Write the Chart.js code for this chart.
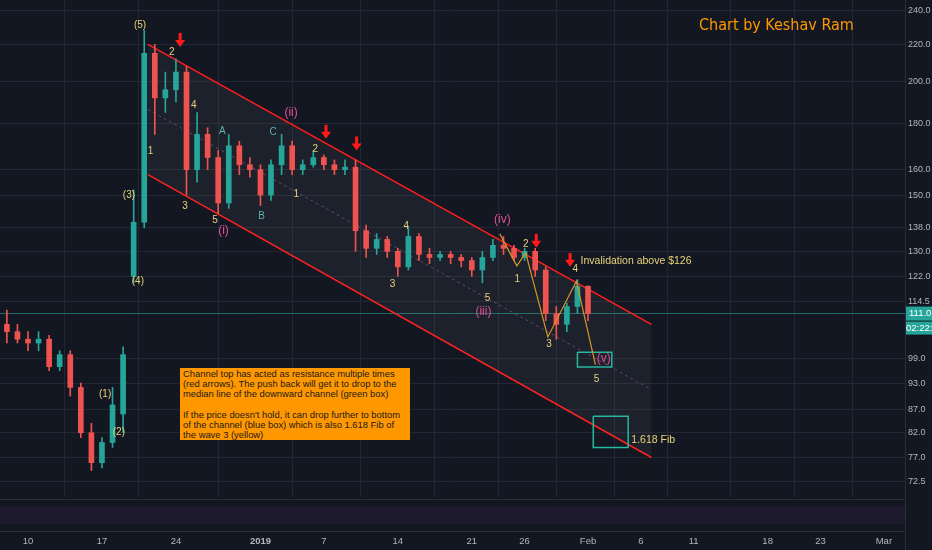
<!DOCTYPE html>
<html><head><meta charset="utf-8">
<script src="https://cdn.jsdelivr.net/npm/chart.js@4"></script>
<style>
html,body{margin:0;padding:0;background:#131722;overflow:hidden}
#wrap{position:relative;width:932px;height:550px}
#note{position:absolute;left:180px;top:368px;width:230px;height:72px;background:#ff9800;color:#1a1a1a;font:9.4px "Liberation Sans",Arial,sans-serif;line-height:10.2px;padding:1px 3px;box-sizing:border-box;white-space:nowrap;overflow:hidden}
#title{position:absolute;left:699px;top:15px;color:#ff9800;font:16px "Liberation Sans Narrow","DejaVu Sans Condensed",sans-serif}
#pane{position:absolute;left:0;top:499px;width:905px;height:31px;border-top:1px solid #2a2e39;border-bottom:1px solid #2a2e39;background:linear-gradient(#131722 0,#131722 6px,#1c1a2c 6px,#1c1a2c 24px,#131722 24px)}
</style></head><body>
<div id="wrap"><canvas id="c" width="932" height="550"></canvas>
<div id="pane"></div>
<div id="title">Chart by Keshav Ram</div>
<div id="note">Channel top has acted as resistance multiple times<br>(red arrows). The push back will get it to drop to the<br>median line of the downward channel (green box)<br><br>If the price doesn't hold, it can drop further to bottom<br>of the channel (blue box) which is also 1.618 Fib of<br>the wave 3 (yellow)</div>
</div>
<script>
const days   = [-2,-1,0,1,2,3,4,5,6,7,8,9,10,11,12,13,14,15,16,17,18,19,20,21,22,23,24,25,26,27,28,29,30,31,32,33,34,35,36,37,38,39,40,41,42,43,44,45,46,47,48,49,50,51,52,53];
const opens  = [108,106,104,103,104,97,100,92,82,76,80,86,122,140,215,192,196,205,160,175,165,147,170,162,160,150,162,170,160,162,165,162,160,161,137,131,134,130,125,135,129,128,129,128,127,124,128,132,131,128,130,124,111,108,113,119];
const closes = [106,104,103,104,97,100,92,82,76,80,88,100,140,215,192,196,205,160,175,165,147,170,162,160,150,162,170,160,162,165,162,160,161,137,131,134,130,125,135,129,128,129,128,127,124,128,132,131,128,130,124,111,108,113,119,111];
const highs  = [112,108,106,106,105,101,101,93,84,81,92,102,152,228,220,205,212,208,185,178,168,175,172,165,162,164,175,172,164,168,166,164,164,164,139,136,135,131,138,136,131,130,130,129,128,130,134,135,132,131,131,125,113,114,121,119];
const lows   = [103,103,101,101,96,96,90,81,74.5,75,79,82,120,138,175,185,190,150,155,160,143,145,158,157,146,148,158,158,158,161,160,158,158,130,128,129,128,122,124,127,126,127,126,125,122,120,127,129,127,127,122,109,104,106,111,109];

const upperCh = [{x:11.35,y:220},{x:59.0,y:108}];
const lowerCh = [{x:11.35,y:158},{x:59.0,y:77}];
const medianCh = [{x:11.35,y:186.4},{x:59.0,y:91.5}];
const zigzag = [{x:44.65,y:135.9},{x:46.26,y:125.3},{x:47.1,y:129.5},{x:49.2,y:104.6},{x:51.9,y:120.5},{x:53.7,y:97.5}];
const greenBox = [{x:52.0,y:100.6},{x:55.25,y:100.6},{x:55.25,y:96.9},{x:52.0,y:96.9},{x:52.0,y:100.6}];
const blueBox = [{x:53.5,y:85.5},{x:56.8,y:85.5},{x:56.8,y:79},{x:53.5,y:79},{x:53.5,y:85.5}];
const lastPrice = 111.0;

const yTicks = [240,220,200,180,160,150,138,130,122,114.5,99,93,87,82,77,72.5];
const xTickDays = [0,7,14,22,28,35,42,47,53,58,63,70,75,81];
const xTickLabels = ["10","17","24","2019","7","14","21","26","Feb","6","11","18","23","Mar"];

const arrowDays = [14.4,28.2,31.1,48.1,51.3];
const arrowPrices = [219.1,173.5,168.4,131.5,125.3];

const Y='#e8d27a', P='#e0509a', T='#5fb3a8';
const labels = [
 [10.6,231,"(5)",Y],[13.6,215.6,"2",Y],[11.6,167.5,"1",Y],[15.7,188.6,"4",Y],[14.85,145.7,"3",Y],[17.7,140.6,"5",Y],
 [18.5,137.1,"(i)",P],[18.4,176.5,"A",T],[22.1,142.0,"B",T],[23.2,176.1,"C",T],[24.9,184.8,"(ii)",P],
 [27.2,168.7,"2",Y],[25.4,150.2,"1",Y],[35.8,138.7,"4",Y],[34.5,119.7,"3",Y],[43.5,115.3,"5",Y],[43.1,111.5,"(iii)",P],
 [44.9,140.9,"(iv)",P],[46.3,121.2,"1",Y],[47.1,132.3,"2",Y],[49.3,102.7,"3",Y],[51.8,124.1,"4",Y],[54.5,99.1,"(v)",P],[53.8,94.0,"5",Y],
 [7.3,90.5,"(1)",Y],[8.6,82.0,"(2)",Y],[9.55,149.8,"(3)",Y],[10.4,120.6,"(4)",Y]
];
const sideTexts = [[52.3,126.7,"Invalidation above $126"],[57.1,80.5,"1.618 Fib"]];

const UP='#26a69a', DN='#ef5350';
const cols = opens.map((o,i)=>closes[i]>=o?UP:DN);

const overlay = {
 id:'overlay',
 afterDatasetsDraw(ch){
  const c=ch.ctx, xs=ch.scales.x, ys=ch.scales.y;
  c.save();
  c.textAlign='center'; c.textBaseline='middle';
  labels.forEach(l=>{c.fillStyle=l[3];c.font=(l[3]===P?'12px':'10px')+' "Liberation Sans",sans-serif';c.fillText(l[2],xs.getPixelForValue(l[0]),ys.getPixelForValue(l[1]));});
  c.textAlign='left'; c.fillStyle=Y; c.font='10.5px "Liberation Sans Narrow","Liberation Sans",sans-serif';
  sideTexts.forEach(s=>c.fillText(s[2],xs.getPixelForValue(s[0]),ys.getPixelForValue(s[1])));
  c.fillStyle='#ff1a1a'; c.strokeStyle='#ff1a1a'; c.lineWidth=3;
  arrowDays.forEach((d,i)=>{const x=xs.getPixelForValue(d),y=ys.getPixelForValue(arrowPrices[i]);
   c.beginPath();c.moveTo(x,y-13);c.lineTo(x,y-4);c.stroke();
   c.beginPath();c.moveTo(x-5,y-6);c.lineTo(x+5,y-6);c.lineTo(x,y+1);c.closePath();c.fill();});
  // axis labels
  c.fillStyle='#b2b5be'; c.font='9px "Liberation Sans",sans-serif'; c.textAlign='left';
  yTicks.forEach(v=>c.fillText(v.toFixed(1),908,ys.getPixelForValue(v)));
  c.textAlign='center'; c.font='9.5px "Liberation Sans",sans-serif';
  xTickDays.forEach((d,i)=>{c.font=(xTickLabels[i]==='2019'?'bold ':'')+'9.5px "Liberation Sans",sans-serif';c.fillText(xTickLabels[i],xs.getPixelForValue(d),541);});
  c.strokeStyle='#2a2e39'; c.lineWidth=1; c.beginPath(); c.moveTo(905.5,0); c.lineTo(905.5,550); c.stroke();
  const yl=ys.getPixelForValue(lastPrice);
  c.fillStyle='#26a69a'; c.fillRect(906,yl-7,26,14); c.fillRect(906,yl+8,26,13);
  c.fillStyle='#fff'; c.textAlign='left'; c.font='9.5px "Liberation Sans",sans-serif';
  c.fillText(lastPrice.toFixed(1),909,yl); c.fillText('02:22:27',906,yl+15);
  c.restore();
 }
};

new Chart(document.getElementById('c'),{
 type:'bar',
 data:{datasets:[
  {type:'line',data:upperCh,borderColor:'#ff1e1e',borderWidth:1.5,pointRadius:0,fill:'+1',backgroundColor:'rgba(255,255,255,0.045)',order:5},
  {type:'line',data:lowerCh,borderColor:'#ff1e1e',borderWidth:1.5,pointRadius:0,fill:false,order:5},
  {type:'line',data:medianCh,borderColor:'rgba(150,80,160,0.6)',borderDash:[3,3],borderWidth:1,pointRadius:0,fill:false,order:5},
  {type:'line',data:[{x:-2.65,y:lastPrice},{x:83,y:lastPrice}],borderColor:'rgba(38,166,154,0.6)',borderWidth:1,pointRadius:0,order:6},
  {data:days.map((d,i)=>({x:d,y:[lows[i],highs[i]]})),backgroundColor:cols,barThickness:1,grouped:false,order:3},
  {data:days.map((d,i)=>({x:d,y:[opens[i],closes[i]]})),backgroundColor:cols,barThickness:5,grouped:false,order:2,minBarLength:1},
  {type:'line',data:zigzag,borderColor:'#d9962a',borderWidth:1.2,pointRadius:0,order:1},
  {type:'line',data:greenBox,borderColor:'#26b8a0',borderWidth:1.5,pointRadius:0,order:1},
  {type:'line',data:blueBox,borderColor:'#26b8a0',borderWidth:1.5,pointRadius:0,order:1}
 ]},
 options:{
  responsive:false,animation:false,
  layout:{padding:{top:0,bottom:53,left:0,right:0}},
  plugins:{legend:{display:false},tooltip:{enabled:false}},
  scales:{
   x:{type:'linear',min:-2.65,max:83,offset:false,
      afterBuildTicks(s){s.ticks=xTickDays.map(v=>({value:v}));},
      afterFit(s){s.height=0;},
      ticks:{display:false},
      grid:{color:'#232733',drawTicks:false},border:{display:false}},
   y:{type:'logarithmic',position:'right',min:69.65,max:246.2,
      afterBuildTicks(s){s.ticks=yTicks.map(v=>({value:v}));},
      afterFit(s){s.width=27;},
      ticks:{display:false},
      grid:{color:'#232733',drawTicks:false},border:{display:false}}
  }
 },
 plugins:[overlay]
});
</script></body></html>
